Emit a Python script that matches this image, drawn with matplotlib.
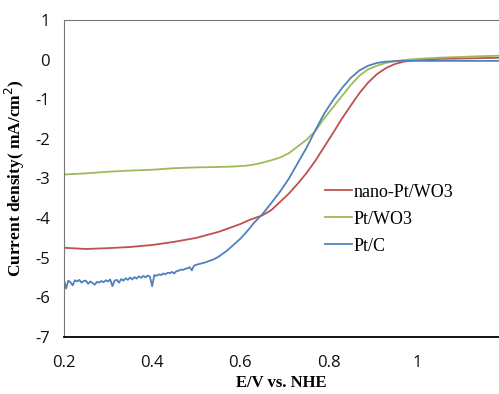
import matplotlib
matplotlib.use("Agg")
import matplotlib.pyplot as plt

plt.rcParams["axes.unicode_minus"] = False

# nano-Pt/WO3
red_x = [0.20, 0.25, 0.30, 0.35, 0.40, 0.45, 0.50, 0.55, 0.60, 0.62, 0.65, 0.67,
         0.69, 0.71, 0.73, 0.75, 0.77, 0.79, 0.81, 0.83, 0.85, 0.87, 0.89, 0.91,
         0.93, 0.95, 0.97, 0.99, 1.01, 1.05, 1.10, 1.15, 1.19]
red_y = [-4.75, -4.78, -4.76, -4.73, -4.68, -4.60, -4.50, -4.35, -4.15, -4.05, -3.93, -3.80,
         -3.59, -3.38, -3.13, -2.86, -2.55, -2.20, -1.85, -1.49, -1.16, -0.84, -0.57, -0.36,
         -0.21, -0.11, -0.05, -0.02, 0.00, 0.02, 0.03, 0.04, 0.05]

# Pt/WO3
green_x = [0.20, 0.25, 0.30, 0.35, 0.40, 0.45, 0.50, 0.55, 0.58, 0.61, 0.63, 0.65,
           0.67, 0.69, 0.71, 0.73, 0.75, 0.77, 0.79, 0.81, 0.83, 0.85, 0.87, 0.89,
           0.91, 0.93, 0.95, 0.97, 1.00, 1.05, 1.10, 1.15, 1.19]
green_y = [-2.90, -2.87, -2.83, -2.80, -2.78, -2.74, -2.72, -2.71, -2.70, -2.68, -2.65, -2.60,
           -2.54, -2.47, -2.36, -2.19, -2.02, -1.80, -1.48, -1.20, -0.92, -0.64, -0.40, -0.24,
           -0.15, -0.08, -0.04, -0.01, 0.02, 0.05, 0.07, 0.09, 0.10]

# Pt/C (noisy at low potential)
blue_x = [0.200, 0.205, 0.210, 0.215, 0.220, 0.225, 0.230, 0.235, 0.240, 0.245,
          0.250, 0.255, 0.260, 0.265, 0.270, 0.275, 0.280, 0.285, 0.290, 0.295,
          0.300, 0.305, 0.310, 0.315, 0.320, 0.325, 0.330, 0.335, 0.340, 0.345,
          0.350, 0.355, 0.360, 0.365, 0.370, 0.375, 0.380, 0.385, 0.390, 0.395,
          0.400, 0.405, 0.410, 0.415, 0.420, 0.425, 0.430, 0.435, 0.440, 0.445,
          0.450, 0.455, 0.460, 0.465, 0.470, 0.475, 0.480, 0.485, 0.490, 0.495,
          0.500, 0.51, 0.52, 0.53, 0.54, 0.55, 0.56, 0.57, 0.58, 0.59,
          0.60, 0.61, 0.62, 0.63, 0.65, 0.67, 0.69, 0.71, 0.73, 0.75,
          0.77, 0.79, 0.81, 0.83, 0.85, 0.87, 0.89, 0.91, 0.93, 0.96,
          1.00, 1.10, 1.19]
blue_y = [-5.55, -5.78, -5.58, -5.62, -5.70, -5.57, -5.60, -5.56, -5.63, -5.59,
          -5.58, -5.66, -5.60, -5.64, -5.68, -5.61, -5.63, -5.59, -5.62, -5.57,
          -5.60, -5.55, -5.72, -5.58, -5.56, -5.63, -5.54, -5.58, -5.52, -5.56,
          -5.50, -5.55, -5.49, -5.53, -5.47, -5.51, -5.46, -5.50, -5.45, -5.48,
          -5.72, -5.44, -5.46, -5.42, -5.44, -5.40, -5.42, -5.38, -5.39, -5.36,
          -5.40, -5.34, -5.33, -5.30, -5.31, -5.28, -5.27, -5.24, -5.32, -5.20,
          -5.18, -5.15, -5.12, -5.08, -5.04, -4.98, -4.90, -4.82, -4.72, -4.62,
          -4.52, -4.40, -4.27, -4.13, -3.90, -3.62, -3.33, -3.00, -2.61, -2.22,
          -1.78, -1.36, -1.02, -0.72, -0.46, -0.27, -0.15, -0.08, -0.05, -0.03,
          -0.03, -0.03, -0.03]

labels = ["nano-Pt/WO3", "Pt/WO3", "Pt/C"]
colors = ["#C0504D", "#9BBB59", "#4F81BD"]

x_ticks = [0.2, 0.4, 0.6, 0.8, 1.0]
x_tick_labels = ["0.2", "0.4", "0.6", "0.8", "1"]
y_ticks = [1, 0, -1, -2, -3, -4, -5, -6, -7]

fig = plt.figure(figsize=(4.99, 3.94), dpi=100)
ax = fig.add_axes([0.128, 0.145, 0.872, 0.804])

ax.plot(red_x, red_y, color=colors[0], lw=1.3, label=labels[0])
ax.plot(green_x, green_y, color=colors[1], lw=1.3, label=labels[1])
ax.plot(blue_x, blue_y, color=colors[2], lw=1.3, label=labels[2])

ax.set_xlim(0.2, 1.186)
ax.set_ylim(-7, 1)
ax.set_xticks(x_ticks)
ax.set_xticklabels(x_tick_labels)
ax.set_yticks(y_ticks)
ax.tick_params(axis="y", length=0, labelsize=12, pad=10)
ax.tick_params(axis="x", length=0, labelsize=12, pad=13)
for t in ax.get_xticklabels() + ax.get_yticklabels():
    t.set_family("Open Sans")
    t.set_color("#111111")

ax.spines["right"].set_visible(False)
ax.spines["top"].set_color("#777777")
ax.spines["left"].set_color("#777777")
ax.spines["bottom"].set_color("black")
ax.spines["bottom"].set_linewidth(1.3)

ax.set_xlabel("E/V vs. NHE", family="Liberation Serif", fontweight="bold", fontsize=12, labelpad=3)
ax.set_ylabel("Current density( mA/cm$^2$)", family="Liberation Serif", fontweight="bold",
              fontsize=12.5, labelpad=6)

ax.legend(loc="upper left", bbox_to_anchor=(0.563, 0.535), frameon=False,
          prop={"family": "Liberation Serif", "size": 13},
          handlelength=1.5, handletextpad=0.08, labelspacing=0.55)

fig.savefig("out.png", dpi=100)
